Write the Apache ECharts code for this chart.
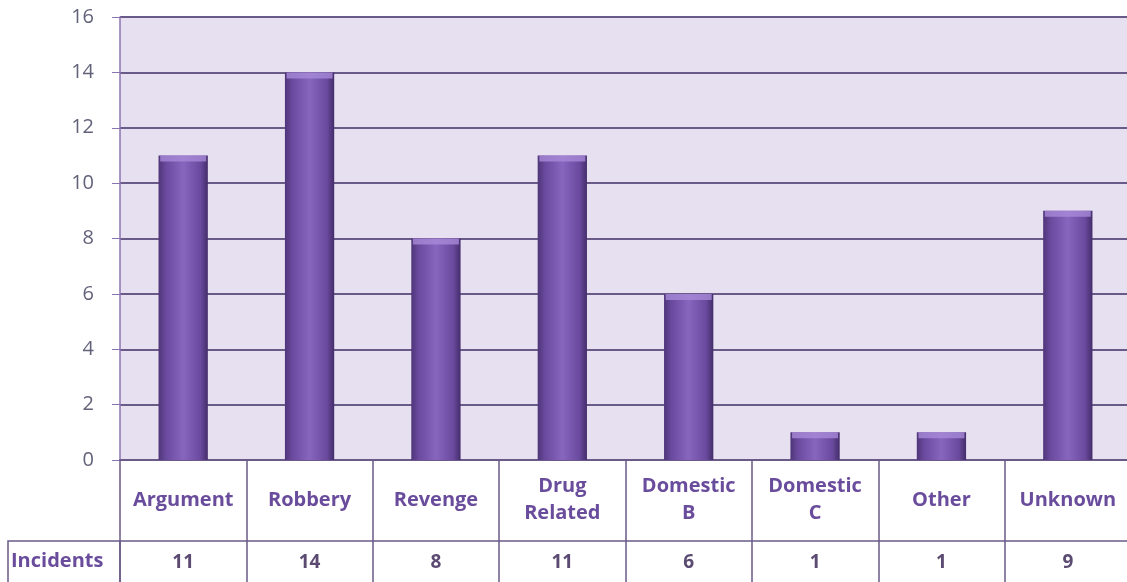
<!DOCTYPE html>
<html>
<head>
<meta charset="utf-8">
<script src="https://cdn.jsdelivr.net/npm/echarts@6/dist/echarts.min.js"></script>
<style>html,body{margin:0;padding:0;background:#fff;overflow:hidden;width:1127px;height:582px}#c{width:1131px;height:582px}</style>
</head>
<body>
<div id="c"></div>
<script>
const categories = ['Argument', 'Robbery', 'Revenge', 'Drug\nRelated', 'Domestic\nB', 'Domestic\nC', 'Other', 'Unknown'];
const incidents = [11, 14, 8, 11, 6, 1, 1, 9];
const seriesName = 'Incidents';

const chart = echarts.init(document.getElementById('c'));
const lineCol = '#6a5a88';
const font = '"Open Sans", sans-serif';
chart.setOption({
  animation: false,
  backgroundColor: '#ffffff',
  grid: { left: 120, right: 0, top: 17, bottom: 122, show: true, backgroundColor: '#e6e0f0', borderWidth: 0 },
  graphic: [
    { type: 'rect', shape: { x: 8, y: 541, width: 112, height: 50 }, style: { fill: 'none', stroke: lineCol, lineWidth: 1.5 } },
    { type: 'text', x: 11, y: 561, style: { text: seriesName, fill: '#6a4c9c', font: 'bold 20px "Open Sans", sans-serif', verticalAlign: 'middle', textAlign: 'left' } }
  ],
  xAxis: [
    {
      type: 'category', data: categories, position: 'bottom', gridIndex: 0,
      axisLine: { show: true, lineStyle: { color: lineCol, width: 2 } },
      axisTick: { show: true, length: 125, alignWithLabel: false, lineStyle: { color: lineCol, width: 1.5 } },
      axisLabel: { interval: 0, margin: 40, verticalAlign: 'middle', lineHeight: 27, color: '#6a4c9c', fontSize: 20, fontWeight: 'bold', fontFamily: font }
    },
    {
      type: 'category', data: incidents.map(String), position: 'bottom', offset: 81, gridIndex: 0,
      axisLine: { show: true, lineStyle: { color: lineCol, width: 1.5 } },
      axisTick: { show: false },
      axisLabel: { interval: 0, margin: 22, verticalAlign: 'middle', color: '#5b4a72', fontSize: 19, fontWeight: 'bold', fontFamily: font }
    }
  ],
  yAxis: {
    type: 'value', min: 0, max: 16, interval: 2,
    axisLine: { show: true, lineStyle: { color: '#8a74b0', width: 1.5 } },
    axisTick: { show: true, length: 8, lineStyle: { color: '#8a74b0' } },
    axisLabel: { margin: 26, color: '#62627a', fontSize: 20, fontFamily: font },
    splitLine: { show: true, lineStyle: { color: lineCol, width: 2 } }
  },
  series: [{
    name: seriesName, type: 'bar', data: incidents, xAxisIndex: 0, barWidth: '39%',
    itemStyle: {
      color: new echarts.graphic.LinearGradient(0, 0, 1, 0, [
        { offset: 0, color: '#4f3579' },
        { offset: 0.15, color: '#6a4a9e' },
        { offset: 0.5, color: '#8766bf' },
        { offset: 0.85, color: '#6a4a9e' },
        { offset: 1, color: '#442d6b' }
      ])
    }
  }, {
    type: 'scatter', data: incidents, xAxisIndex: 0, symbol: 'rect', symbolSize: [46, 6], symbolOffset: [0, 3],
    itemStyle: { color: '#a88ad8' }, silent: true, z: 3
  }]
});
</script>
</body>
</html>
